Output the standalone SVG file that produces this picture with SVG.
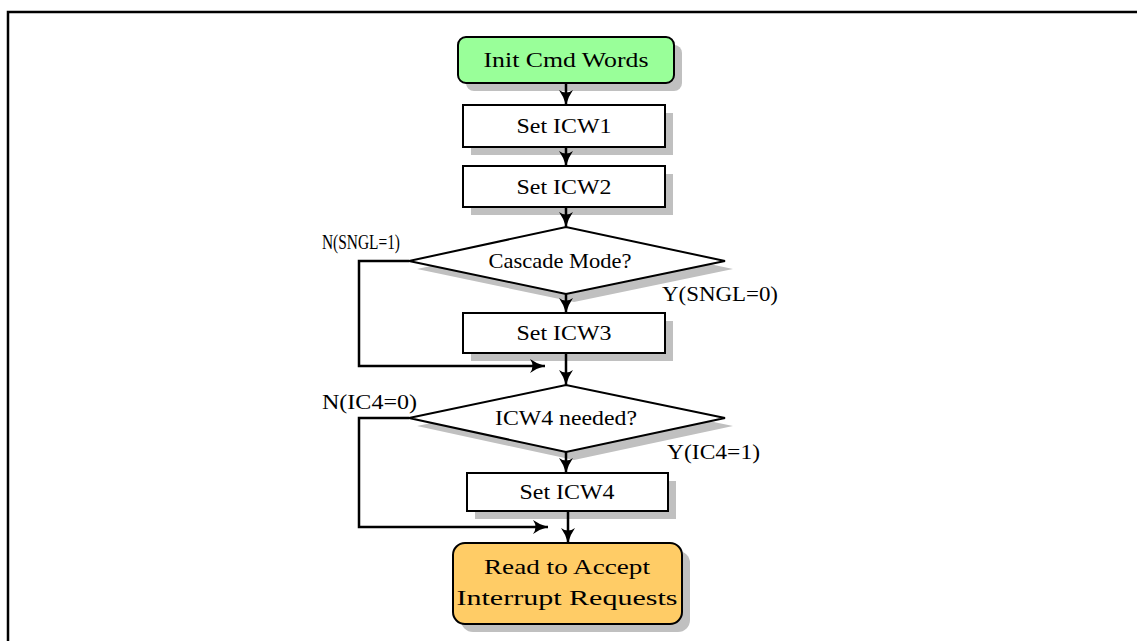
<svg xmlns="http://www.w3.org/2000/svg" width="1137" height="641" viewBox="0 0 1137 641">
<defs>
<marker id="ah" markerWidth="16" markerHeight="16" viewBox="0 0 16 16" refX="15" refY="8" orient="auto" markerUnits="userSpaceOnUse">
<path d="M0,1 Q7,6 15,8 Q7,10 0,15 Q5,8 0,1 Z" fill="#000"/>
</marker>
</defs>
<style>
.sh{fill:#c0c0c0;stroke:none}
.bx{fill:#fff;stroke:#000;stroke-width:2}
.t{font-family:"Liberation Serif","Times New Roman",serif;font-size:21px;fill:#000;text-anchor:middle}
.l{font-family:"Liberation Serif","Times New Roman",serif;font-size:20px;fill:#000}
.c{fill:none;stroke:#000;stroke-width:2.5;marker-end:url(#ah)}
</style>
<rect x="8" y="12" width="1140" height="640" fill="#fff" stroke="#000" stroke-width="2.5"/>
<g id="n-init">
<rect class="sh" x="466" y="45" width="216" height="46" rx="8"/>
<rect class="bx" x="458" y="37" width="216" height="46" rx="8" style="fill:#99ff99"/>
<text class="t" x="566" y="67" textLength="165" lengthAdjust="spacingAndGlyphs">Init Cmd Words</text>
</g>
<g id="n-icw1">
<rect class="sh" x="471" y="113" width="202" height="42"/>
<rect class="bx" x="463" y="105" width="202" height="42"/>
<text class="t" x="564" y="133" textLength="95" lengthAdjust="spacingAndGlyphs">Set ICW1</text>
</g>
<g id="n-icw2">
<rect class="sh" x="471" y="174" width="202" height="41"/>
<rect class="bx" x="463" y="166" width="202" height="41"/>
<text class="t" x="564" y="194" textLength="95" lengthAdjust="spacingAndGlyphs">Set ICW2</text>
</g>
<g id="n-cascade">
<polygon class="sh" points="417,269 574,235 733,269 574,302"/>
<polygon class="bx" points="409,261 566,227 725,261 566,294"/>
<text class="t" x="560" y="268" textLength="143" lengthAdjust="spacingAndGlyphs">Cascade Mode?</text>
</g>
<g id="n-icw3">
<rect class="sh" x="471" y="321" width="202" height="40"/>
<rect class="bx" x="463" y="313" width="202" height="40"/>
<text class="t" x="564" y="340" textLength="95" lengthAdjust="spacingAndGlyphs">Set ICW3</text>
</g>
<g id="n-icw4q">
<polygon class="sh" points="417,426 574,393 733,426 574,460"/>
<polygon class="bx" points="409,418 566,385 725,418 566,452"/>
<text class="t" x="566" y="425" textLength="142" lengthAdjust="spacingAndGlyphs">ICW4 needed?</text>
</g>
<g id="n-icw4">
<rect class="sh" x="475" y="481" width="201" height="38"/>
<rect class="bx" x="467" y="473" width="201" height="38"/>
<text class="t" x="567" y="499" textLength="95" lengthAdjust="spacingAndGlyphs">Set ICW4</text>
</g>
<g id="n-ready">
<rect class="sh" x="461" y="551" width="229" height="81" rx="12"/>
<rect class="bx" x="453" y="543" width="229" height="81" rx="12" style="fill:#ffcc66"/>
<text class="t" x="567" y="574" textLength="166" lengthAdjust="spacingAndGlyphs">Read to Accept</text>
<text class="t" x="567" y="605" textLength="221" lengthAdjust="spacingAndGlyphs">Interrupt Requests</text>
</g>
<g id="connectors">
<path class="c" d="M566,83 V105"/>
<path class="c" d="M566,147 V166"/>
<path class="c" d="M566,207 V227"/>
<path class="c" d="M566,294 V313"/>
<path class="c" d="M566,353 V385"/>
<path class="c" d="M566,452 V473"/>
<path class="c" d="M568,511 V543"/>
<path class="c" d="M409,261 H359 V366 H545"/>
<path class="c" d="M409,418 H359 V527 H548"/>
</g>
<g id="labels">
<text class="l" x="322" y="249" textLength="78" lengthAdjust="spacingAndGlyphs">N(SNGL=1)</text>
<text class="l" x="662" y="301" textLength="116" lengthAdjust="spacingAndGlyphs">Y(SNGL=0)</text>
<text class="l" x="322" y="409" textLength="95" lengthAdjust="spacingAndGlyphs">N(IC4=0)</text>
<text class="l" x="667" y="459" textLength="93" lengthAdjust="spacingAndGlyphs">Y(IC4=1)</text>
</g>
</svg>
